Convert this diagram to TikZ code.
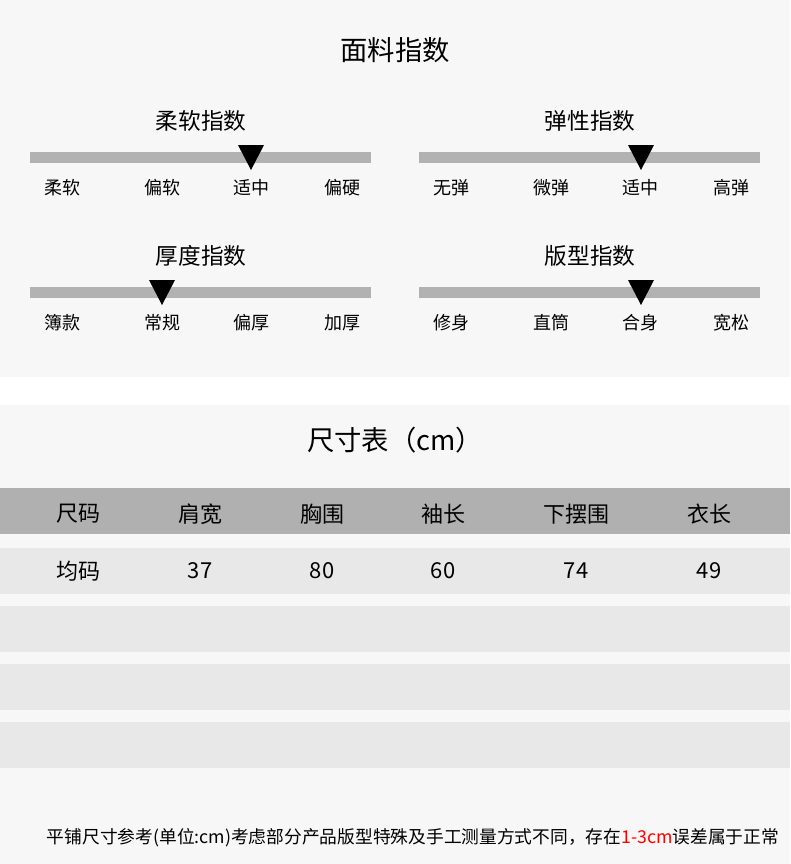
\documentclass[tikz,border=0pt]{standalone}
\usepackage{fontspec}
\setmainfont{Noto Sans CJK SC}
\begin{document}
\begin{tikzpicture}[x=0.75pt,y=-0.75pt]
  \tikzstyle{panel}=[fill=black!3, draw=none]
  \tikzstyle{bar}=[fill=black!30, draw=none]
  \tikzstyle{marker}=[fill=black, draw=none]
  \tikzstyle{title}=[font=\fontsize{20.5}{24}\selectfont]
  \tikzstyle{subtitle}=[font=\fontsize{17}{20}\selectfont]
  \tikzstyle{tick}=[font=\fontsize{13.5}{16}\selectfont]
  \tikzstyle{cell}=[font=\fontsize{16.5}{19}\selectfont]
  \useasboundingbox (0,0) rectangle (790,864);
  \fill[white] (0,0) rectangle (790,864);
  \fill[panel] (0,0) rectangle (790,377);
  \fill[panel] (0,405) rectangle (790,864);
  \node[title] (fabric) at (395,50) {面料指数};
  % index scales
  \foreach \cx/\cy/\name/\mark/\la/\lb/\lc/\ld in
    {30/121/柔软指数/251/柔软/偏软/适中/偏硬,
     419/121/弹性指数/641/无弹/微弹/适中/高弹,
     30/256/厚度指数/162/簿款/常规/偏厚/加厚,
     419/256/版型指数/641/修身/直筒/合身/宽松}{
    \node[subtitle] at (\cx+171,\cy) {\name};
    \fill[bar] (\cx,\cy+31) rectangle (\cx+341,\cy+42);
    \fill[marker] (\mark-13,\cy+24) -- (\mark+13,\cy+24) -- (\mark,\cy+49) -- cycle;
    \node[tick] at (\cx+32,\cy+67) {\la};
    \node[tick] at (\cx+132,\cy+67) {\lb};
    \node[tick] at (\cx+221,\cy+67) {\lc};
    \node[tick] at (\cx+312,\cy+67) {\ld};
  }
  % size table
  \node[title] (size) at (395,440) {尺寸表（cm）};
  \fill[black!31] (0,488) rectangle (790,534);
  \foreach \ry in {548,606,664,722}
    \fill[black!9] (0,\ry) rectangle (790,\ry+46);
  \foreach \tx/\ha/\va in {78/尺码/均码, 200/肩宽/37, 322/胸围/80,
                           443/袖长/60, 576/下摆围/74, 709/衣长/49}{
    \node[cell] at (\tx,514) {\ha};
    \node[cell] at (\tx,571) {\va};
  }
  \node[font=\fontsize{13.3}{16}\selectfont] (note) at (413,838)
    {平铺尺寸参考(单位:cm)考虑部分产品版型特殊及手工测量方式不同，存在\textcolor{red}{1-3cm}误差属于正常};
\end{tikzpicture}
\end{document}
